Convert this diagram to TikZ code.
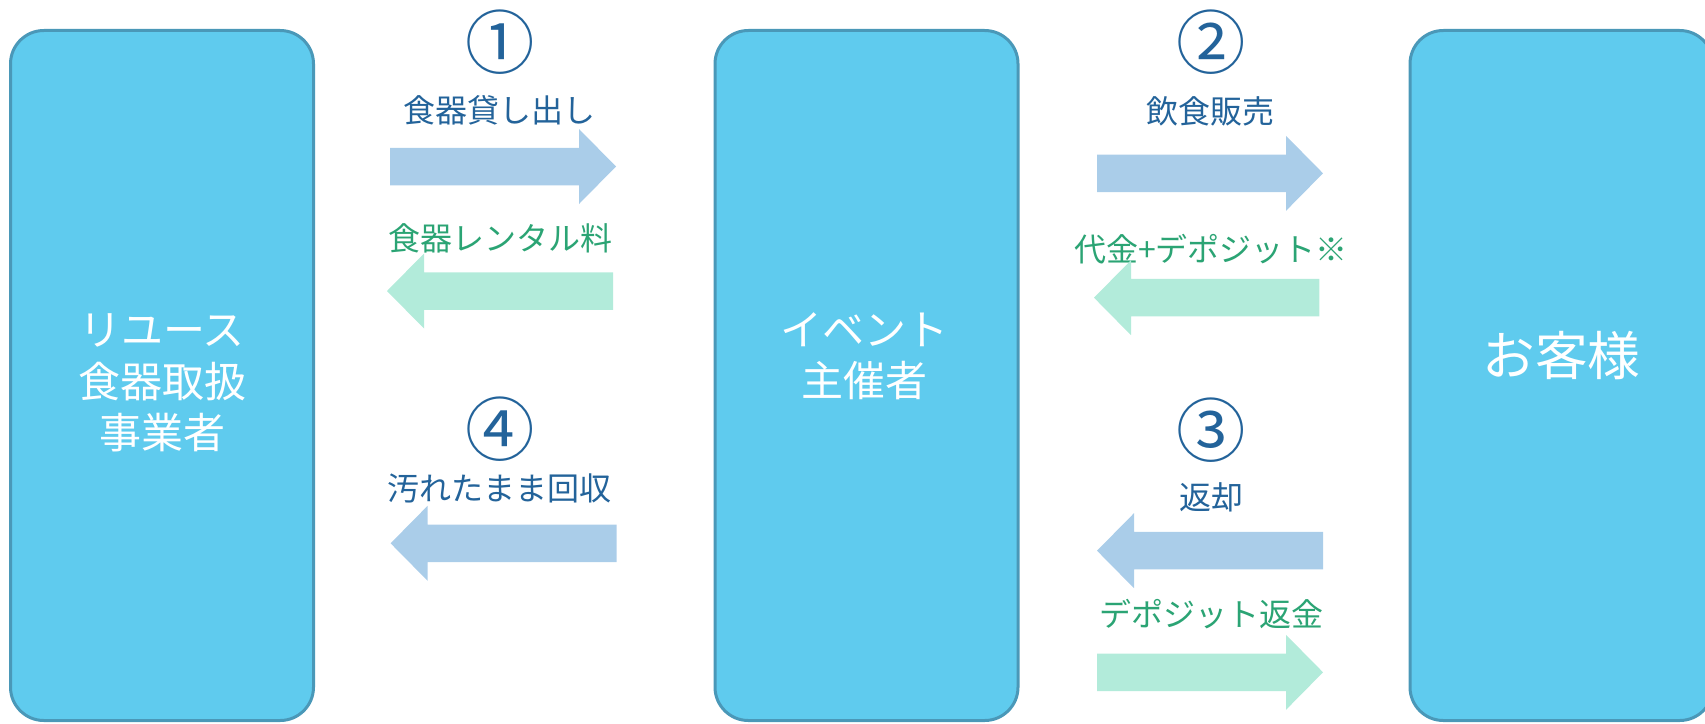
\documentclass[tikz,border=0pt]{standalone}
\usepackage{fontspec}
\setmainfont{Noto Sans CJK JP}
\definecolor{boxfill}{HTML}{5FCBEE}
\definecolor{boxline}{HTML}{4A98B8}
\definecolor{txtblue}{HTML}{23639A}
\definecolor{txtgreen}{HTML}{2BA474}
\definecolor{arrblue}{HTML}{AACDE9}
\definecolor{arrgreen}{HTML}{B2EBDA}
% right-pointing block arrow: #1 colour, #2 x-left, #3 x-right, #4 y-centre
\newcommand{\blockR}[4]{%
  \fill[#1] (#2,#4-18.75) -- (#3-37,#4-18.75) -- (#3-37,#4-37.5) -- (#3,#4)
    -- (#3-37,#4+37.5) -- (#3-37,#4+18.75) -- (#2,#4+18.75) -- cycle;}
% left-pointing block arrow: #1 colour, #2 x-left (tip), #3 x-right, #4 y-centre
\newcommand{\blockL}[4]{%
  \fill[#1] (#3,#4-18.75) -- (#2+37,#4-18.75) -- (#2+37,#4-37.5) -- (#2,#4)
    -- (#2+37,#4+37.5) -- (#2+37,#4+18.75) -- (#3,#4+18.75) -- cycle;}
\begin{document}
\begin{tikzpicture}[x=0.75pt,y=-0.75pt,
  entity/.style={draw=boxline, fill=boxfill, line width=2.25pt,
    rounded corners=25pt, inner sep=0pt,
    minimum width=227.25pt, minimum height=517.5pt},
  boxlabel/.style={text=white, align=center, inner sep=0pt,
    font=\fontsize{31.5}{38.5}\selectfont},
  biglabel/.style={text=white, inner sep=0pt,
    font=\fontsize{39.5}{45}\selectfont},
  steplabel/.style={text=txtblue, inner sep=0pt,
    font=\fontsize{52}{56}\selectfont},
  flowblue/.style={text=txtblue, inner sep=0pt,
    font=\fontsize{24}{28}\selectfont},
  flowgreen/.style={text=txtgreen, inner sep=0pt,
    font=\fontsize{24}{28}\selectfont}]
\useasboundingbox (0,0) rectangle (1705,724);
\clip (0,0) rectangle (1705,724);

% boxes
\node[entity] (vendor) at (162,375.5) {};
\node[entity] (host) at (866.5,375.5) {};
\node[entity] (guest) at (1561.5,375.5) {};
\node[boxlabel] (vendortxt) at (162,383) {リユース\\食器取扱\\事業者};
\node[boxlabel] (hosttxt) at (864,356.5) {イベント\\主催者};
\node[biglabel] (guesttxt) at (1561.5,356) {お客様};

% step 1 and 4 (vendor <-> host)
\node[steplabel] (s1) at (500,41.7) {①};
\node[flowblue] (l1) at (499,110.5) {食器貸し出し};
\blockR{arrblue}{390}{616}{166.5}
\node[flowgreen] (l1b) at (500.5,238.5) {食器レンタル料};
\blockL{arrgreen}{387}{613}{291}
\node[steplabel] (s4) at (500,429) {④};
\node[flowblue] (l4) at (499.5,488) {汚れたまま回収};
\blockL{arrblue}{390.6}{616.5}{543.3}

% steps 2 and 3 (host <-> guest)
\node[steplabel] (s2) at (1211.5,41.7) {②};
\node[flowblue] (l2) at (1210.5,111) {飲食販売};
\blockR{arrblue}{1097}{1323}{173.3}
\node[flowgreen] (l2b) at (1211,249) {代金+デポジット※};
\blockL{arrgreen}{1094}{1319.4}{297.7}
\node[steplabel] (s3) at (1211.5,430) {③};
\node[flowblue] (l3) at (1211,497.5) {返却};
\blockL{arrblue}{1097}{1323}{550.7}
\node[flowgreen] (l3b) at (1211,614) {デポジット返金};
\blockR{arrgreen}{1097}{1323}{672.3}
\end{tikzpicture}
\end{document}
